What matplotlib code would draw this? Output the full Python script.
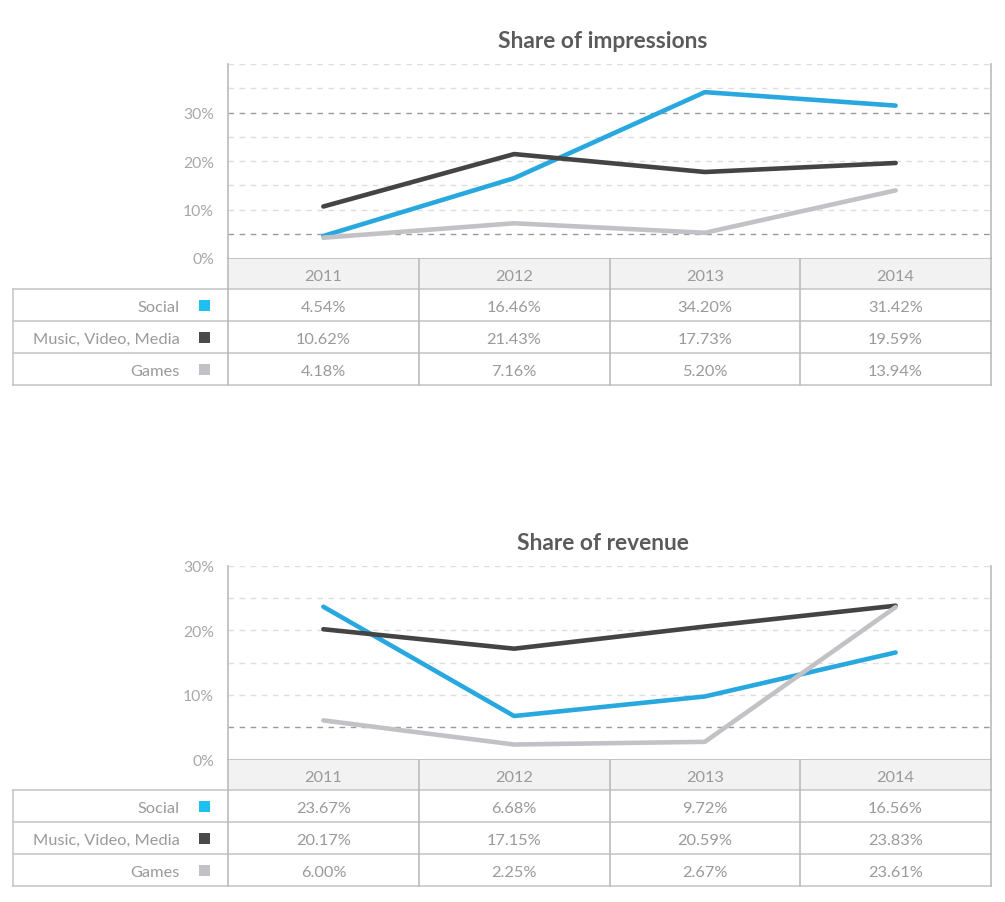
import matplotlib.pyplot as plt
from matplotlib.patches import Rectangle

# data
years = ['2011', '2012', '2013', '2014']
series_names = ['Social', 'Music, Video, Media', 'Games']
series_colors = ['#29a8e0', '#444444', '#c2c2c6']
legend_colors = ['#1fc0ef', '#4a4a4a', '#c2c2c6']

impressions_social = [4.54, 16.46, 34.20, 31.42]
impressions_media = [10.62, 21.43, 17.73, 19.59]
impressions_games = [4.18, 7.16, 5.20, 13.94]

revenue_social = [23.67, 6.68, 9.72, 16.56]
revenue_media = [20.17, 17.15, 20.59, 23.83]
revenue_games = [6.00, 2.25, 2.67, 23.61]

yticks = [0, 10, 20, 30]

W, H = 1005, 903
FONT = 'Lato'
TXT = '#9a9a9a'
GRID_LIGHT = '#dddddd'
GRID_DARK = '#999999'
BORDER = '#bbbbbb'

fig = plt.figure(figsize=(W / 100, H / 100), dpi=100)
ov = fig.add_axes([0, 0, 1, 1], zorder=0)
ov.set_xlim(0, W)
ov.set_ylim(H, 0)
ov.axis('off')

X0, X1 = 228, 991
LEFT = 13
ROW_H = 32
col_edges = [X0 + (X1 - X0) * i / 4 for i in range(5)]


def panel(title, data, top, bottom, ymax, dark_levels):
    ax = fig.add_axes([X0 / W, 1 - bottom / H, (X1 - X0) / W, (bottom - top) / H], zorder=1)
    ax.set_xlim(-0.5, 3.5)
    ax.set_ylim(0, ymax)
    for v in range(5, ymax + 1, 5):
        c = GRID_DARK if v in dark_levels else GRID_LIGHT
        ax.axhline(v, color=c, lw=1, ls=(0, (4, 4)), zorder=1)
    for vals, col in zip(data, series_colors):
        ax.plot(range(len(years)), vals, color=col, lw=3.3,
                solid_capstyle='round', solid_joinstyle='round', zorder=3)
    for s in ['top', 'bottom']:
        ax.spines[s].set_visible(False)
    for s in ['left', 'right']:
        ax.spines[s].set_color(BORDER)
        ax.spines[s].set_linewidth(1.2)
    ax.set_xticks([])
    ax.set_yticks(yticks)
    ax.set_yticklabels([f'{v}%' for v in yticks], fontfamily=FONT,
                       fontsize=11.3, color='#a8a8a8')
    ax.tick_params(axis='y', length=0, pad=10)

    ov.text(603, top - 23, title, ha='center', va='center', fontfamily=FONT,
            fontweight='bold', fontsize=16.4, color='#5a5a5a')

    # header row with years
    ov.add_patch(Rectangle((X0, bottom), X1 - X0, ROW_H - 1, facecolor='#f2f2f2',
                           edgecolor='none', zorder=1))
    for i, y in enumerate(years):
        cx = (col_edges[i] + col_edges[i + 1]) / 2
        ov.text(cx, bottom + ROW_H / 2 + 2, y, ha='center', va='center', fontfamily=FONT,
                fontsize=11.8, color=TXT)

    t0 = bottom + ROW_H - 1
    n = len(series_names)
    tb = t0 + n * ROW_H
    # horizontal rules
    ov.plot([X0, X1], [bottom, bottom], color=BORDER, lw=1.2, zorder=2)
    for r in range(n + 1):
        y = t0 + r * ROW_H
        ov.plot([LEFT, X1], [y, y], color='#c8c8c8', lw=1.2, zorder=2)
    # vertical rules
    for x in col_edges:
        ov.plot([x, x], [bottom, tb], color=BORDER, lw=1.2, zorder=2)
    ov.plot([LEFT, LEFT], [t0, tb], color='#c8c8c8', lw=1.2, zorder=2)

    for r, (name, lc, vals) in enumerate(zip(series_names, legend_colors, data)):
        cy = t0 + r * ROW_H + ROW_H / 2
        ov.text(180, cy + 2, name, ha='right', va='center', fontfamily=FONT,
                fontsize=11.8, color=TXT)
        ov.add_patch(Rectangle((199, cy - 5), 11, 11, facecolor=lc, edgecolor='none', zorder=2))
        for i, v in enumerate(vals):
            cx = (col_edges[i] + col_edges[i + 1]) / 2
            ov.text(cx, cy + 2, f'{v:.2f}%', ha='center', va='center', fontfamily=FONT,
                    fontsize=11.8, color=TXT)


panel('Share of impressions', [impressions_social, impressions_media, impressions_games],
      65, 259, 40, [5, 30])
panel('Share of revenue', [revenue_social, revenue_media, revenue_games],
      567, 760, 30, [5])

fig.savefig('out.png', dpi=100, facecolor='white')
